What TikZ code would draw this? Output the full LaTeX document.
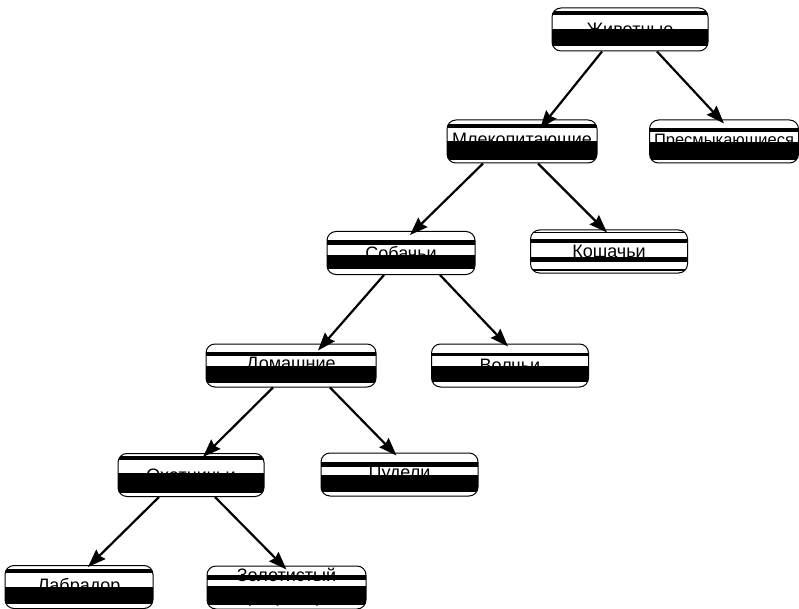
\documentclass[tikz,border=0pt]{standalone}
\usepackage{fontspec}
\setmainfont{Liberation Sans}
\usetikzlibrary{calc,arrows.meta}

% black band between two fractions of the node height
\newcommand{\stripe}[2]{\fill[black, sharp corners] ($(path picture bounding box.north west)!#1!(path picture bounding box.south west)$) rectangle ($(path picture bounding box.north east)!#2!(path picture bounding box.south east)$);}

\tikzset{
  taxon/.style={draw, line width=1pt, rounded corners=9pt, fill=white,
    minimum height=43pt, inner sep=1pt, align=center,
    font=\fontsize{18}{21}\selectfont},
  link/.style={line width=2.2pt, -{Stealth[length=18pt,width=13pt,inset=2pt]}}
}

\begin{document}
\begin{tikzpicture}[x=1pt,y=-1pt]
        \useasboundingbox (0,0) rectangle (799,609);

        \node[taxon, minimum width=156pt, path picture={\stripe{0.08}{0.17}\stripe{0.5}{0.88}}] (zoo) at (630,29.5) {Животные};

        \node[taxon, minimum width=150pt, path picture={\stripe{0.1}{0.18}\stripe{0.5}{0.94}}] (mam) at (522,141.5) {Млекопитающие};
        \node[taxon, minimum width=149pt, font=\fontsize{16.5}{20}\selectfont, path picture={\stripe{0.19}{0.29}\stripe{0.52}{0.94}}] (rep) at (724,141.5) {Пресмыкающиеся};

        \node[taxon, minimum width=148pt, path picture={\stripe{0.19}{0.31}\stripe{0.55}{0.88}}] (dog) at (401,253) {Собачьи};
        \node[taxon, minimum width=157pt, path picture={\stripe{0.04}{0.07}\stripe{0.2}{0.3}\stripe{0.63}{0.75}\stripe{0.9}{0.95}}] (cat) at (609,251.5) {Кошачьи};

        \node[taxon, minimum width=170pt, path picture={\stripe{0.18}{0.28}\stripe{0.51}{0.9}}] (home) at (291,365.5) {Домашние};
        \node[taxon, minimum width=157pt, path picture={\stripe{0.2}{0.29}\stripe{0.51}{0.88}}] (wolf) at (510,365.5) {Волчьи};

        \node[taxon, minimum width=146pt, path picture={\stripe{0.06}{0.16}\stripe{0.45}{0.93}}] (hunt) at (191,475) {Охотничьи};
        \node[taxon, minimum width=157pt, path picture={\stripe{0.22}{0.33}\stripe{0.51}{0.9}}] (poodle) at (399.5,474.5) {Пудели};

        \node[taxon, minimum width=148pt, path picture={\stripe{0.07}{0.18}\stripe{0.5}{0.89}}] (lab) at (79,587) {Лабрадор};
        \node[taxon, minimum width=159pt, path picture={\stripe{0.2}{0.33}\stripe{0.47}{0.9}}] (gold) at (286.5,587.5) {Золотистый\\ретривер};

        \draw[link] ([xshift=-28pt]zoo.south) -- ([xshift=18pt,yshift=-9pt]mam.north);
        \draw[link] ([xshift=27pt]zoo.south) -- ([yshift=-4pt]rep.north);

        \draw[link] ([xshift=-39pt]mam.south) -- ([xshift=9pt,yshift=-4pt]dog.north);
        \draw[link] ([xshift=16pt]mam.south) -- ([xshift=-2pt,yshift=-3pt]cat.north);

        \draw[link] ([xshift=-17pt]dog.south) -- ([xshift=27pt,yshift=-7pt]home.north);
        \draw[link] ([xshift=39pt]dog.south) -- ([xshift=-2pt,yshift=-3pt]wolf.north);

        \draw[link] ([xshift=-18pt]home.south) -- ([xshift=12pt,yshift=-4pt]hunt.north);
        \draw[link] ([xshift=39pt]home.south) -- ([xshift=-3pt,yshift=-3pt]poodle.north);

        \draw[link] ([xshift=-32pt]hunt.south) -- ([xshift=9pt,yshift=-2pt]lab.north);
        \draw[link] ([xshift=24pt]hunt.south) -- ([yshift=-4pt]gold.north);

    \end{tikzpicture}
\end{document}
